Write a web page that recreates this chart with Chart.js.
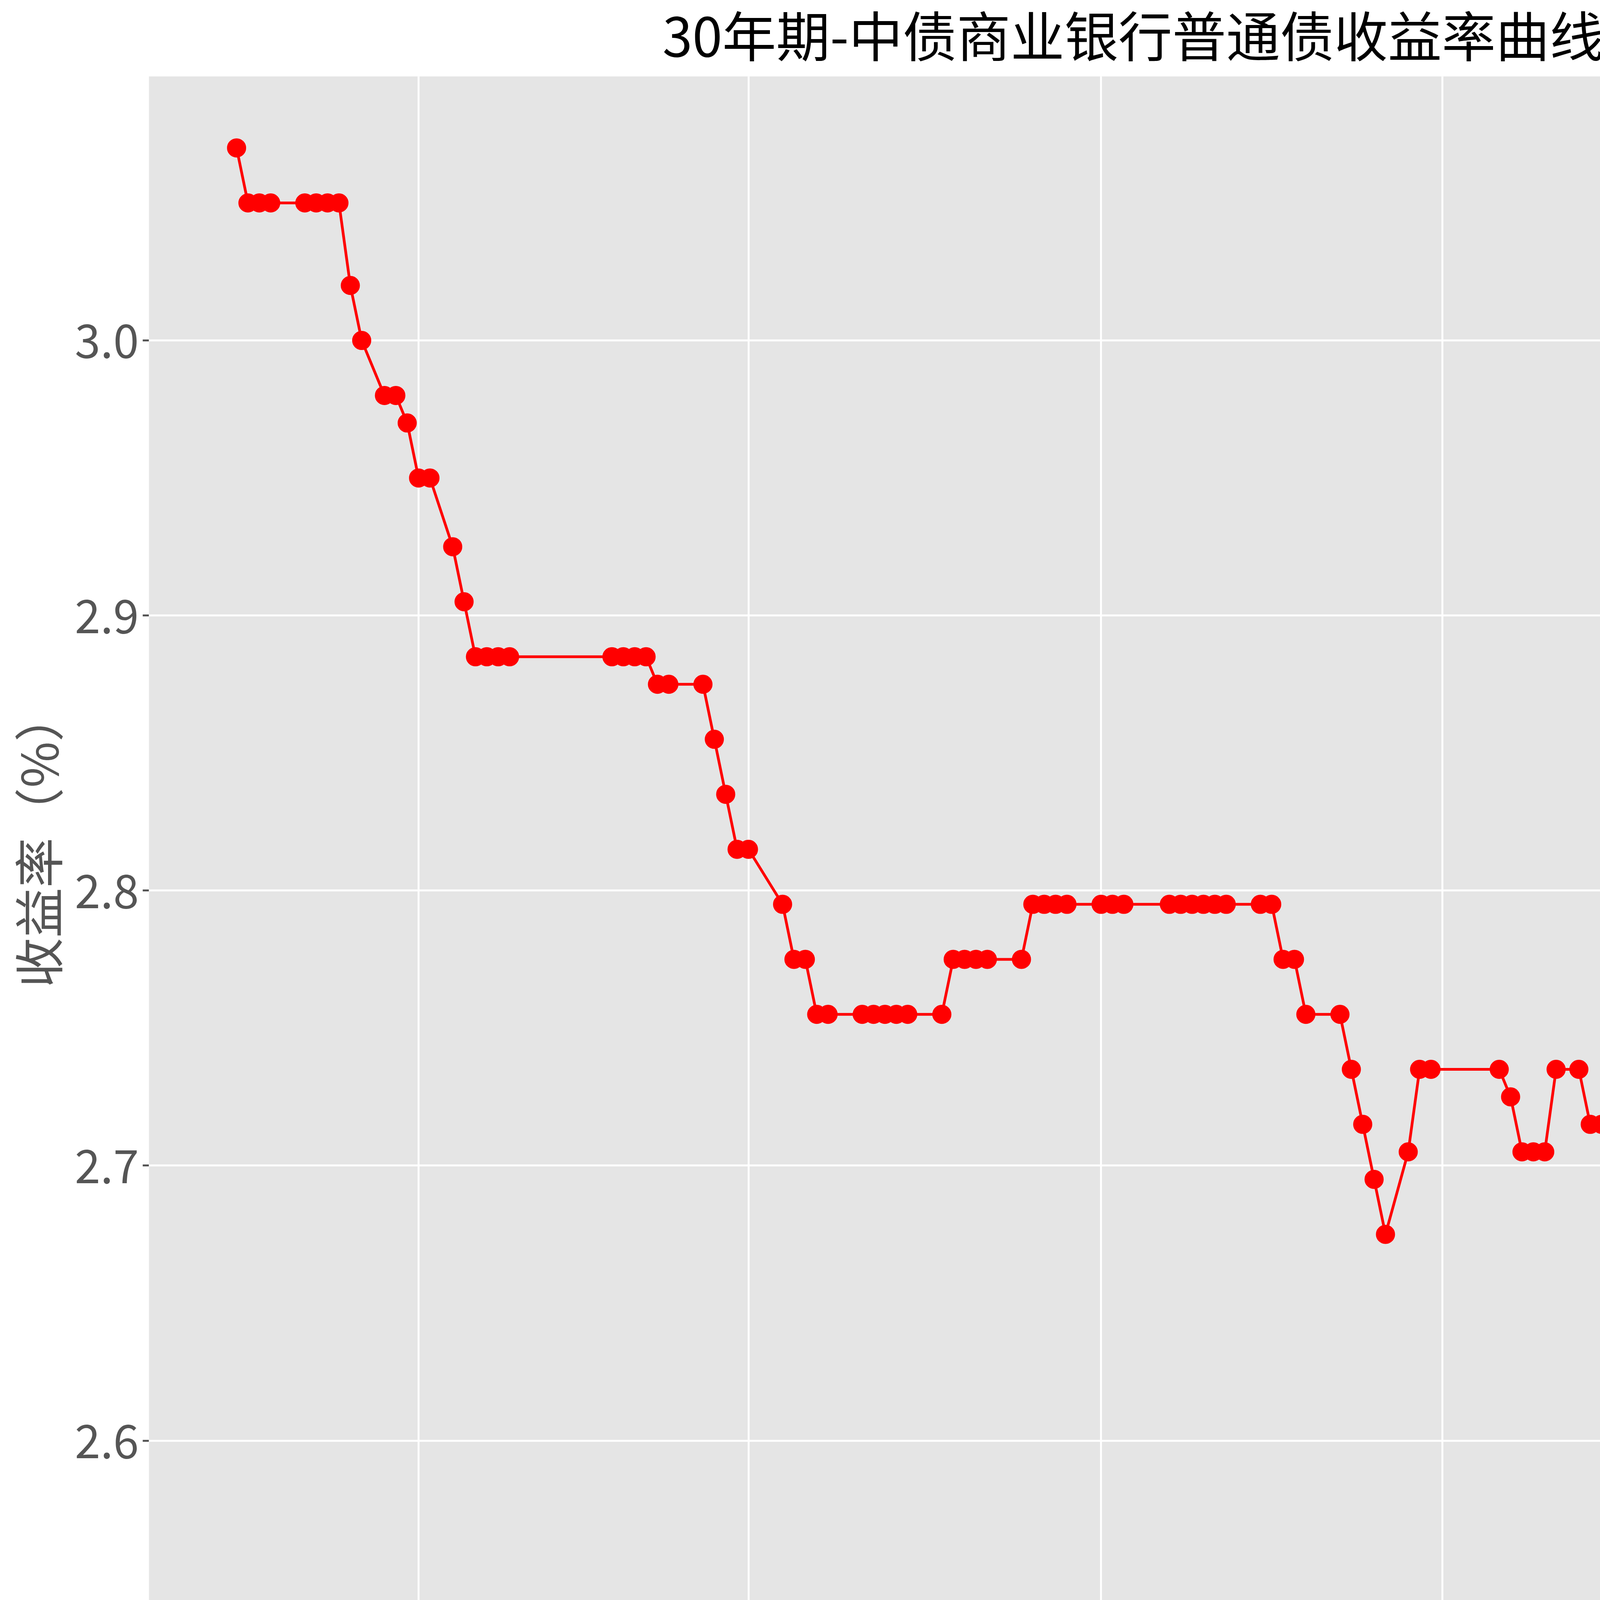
<!DOCTYPE html>
<html><head><meta charset="utf-8">
<script src="https://cdn.jsdelivr.net/npm/chart.js@4/dist/chart.umd.min.js"></script>
<style>html,body{margin:0;padding:0;background:#fff;overflow:hidden}canvas{display:block}</style>
</head><body>
<canvas id="c" width="6194" height="4574" style="width:6194px;height:4574px"></canvas>
<script>
const dates = ["2024-01-16","2024-01-17","2024-01-18","2024-01-19","2024-01-22","2024-01-23","2024-01-24","2024-01-25","2024-01-26","2024-01-27","2024-01-29","2024-01-30","2024-01-31","2024-02-01","2024-02-02","2024-02-04","2024-02-05","2024-02-06","2024-02-07","2024-02-08","2024-02-09","2024-02-18","2024-02-19","2024-02-20","2024-02-21","2024-02-22","2024-02-23","2024-02-26","2024-02-27","2024-02-28","2024-02-29","2024-03-01","2024-03-04","2024-03-05","2024-03-06","2024-03-07","2024-03-08","2024-03-11","2024-03-12","2024-03-13","2024-03-14","2024-03-15","2024-03-18","2024-03-19","2024-03-20","2024-03-21","2024-03-22","2024-03-25","2024-03-26","2024-03-27","2024-03-28","2024-03-29","2024-04-01","2024-04-02","2024-04-03","2024-04-07","2024-04-08","2024-04-09","2024-04-10","2024-04-11","2024-04-12","2024-04-15","2024-04-16","2024-04-17","2024-04-18","2024-04-19","2024-04-22","2024-04-23","2024-04-24","2024-04-25","2024-04-26","2024-04-28","2024-04-29","2024-04-30","2024-05-06","2024-05-07","2024-05-08","2024-05-09","2024-05-10","2024-05-11","2024-05-13","2024-05-14","2024-05-15","2024-05-16","2024-05-17","2024-05-20","2024-05-21","2024-05-22","2024-05-23","2024-05-24","2024-05-27","2024-05-28","2024-05-29","2024-05-30","2024-05-31","2024-06-03","2024-06-04","2024-06-05","2024-06-06","2024-06-07","2024-06-11","2024-06-12","2024-06-13","2024-06-14","2024-06-17","2024-06-18","2024-06-19","2024-06-20","2024-06-21","2024-06-24","2024-06-25","2024-06-26","2024-06-27","2024-06-28","2024-07-01","2024-07-02","2024-07-03","2024-07-04","2024-07-05","2024-07-08","2024-07-09","2024-07-10","2024-07-11","2024-07-12","2024-07-15"];
const yields = [3.07,3.05,3.05,3.05,3.05,3.05,3.05,3.05,3.02,3.00,2.98,2.98,2.97,2.95,2.95,2.925,2.905,2.885,2.885,2.885,2.885,2.885,2.885,2.885,2.885,2.875,2.875,2.875,2.855,2.835,2.815,2.815,2.795,2.775,2.775,2.755,2.755,2.755,2.755,2.755,2.755,2.755,2.755,2.775,2.775,2.775,2.775,2.775,2.795,2.795,2.795,2.795,2.795,2.795,2.795,2.795,2.795,2.795,2.795,2.795,2.795,2.795,2.795,2.775,2.775,2.755,2.755,2.735,2.715,2.695,2.675,2.705,2.735,2.735,2.735,2.725,2.705,2.705,2.705,2.735,2.735,2.715,2.715,2.715,2.715,2.735,2.735,2.735,2.735,2.735,2.735,2.735,2.715,2.715,2.715,2.715,2.695,2.695,2.695,2.665,2.655,2.655,2.635,2.635,2.635,2.635,2.615,2.615,2.615,2.615,2.615,2.615,2.595,2.565,2.565,2.565,2.565,2.565,2.565,2.58,2.58,2.58,2.58,2.58,2.58];
const xTickDates = ["2024-02-01","2024-03-01","2024-04-01","2024-05-01","2024-06-01","2024-07-01"];
const yTicks = [2.6,2.7,2.8,2.9,3.0];
const title = "30年期-中债商业银行普通债收益率曲线(AAA)";
const yTitle = "收益率（%）";

const toDay = s => { const [y,m,d]=s.split("-").map(Number); return (Date.UTC(y,m-1,d)-Date.UTC(2024,0,1))/864e5; };
const dayLabel = {}; xTickDates.forEach(s=>dayLabel[toDay(s)]=s.slice(0,7));
const pts = dates.map((d,i)=>({x:toDay(d),y:yields[i]}));
const F = "'Noto Sans CJK SC', 'DejaVu Sans'";
const bg = {id:'bg',beforeDraw(c){const a=c.chartArea,x=c.ctx;x.save();x.fillStyle='#E5E5E5';x.fillRect(a.left,a.top,a.right-a.left,a.bottom-a.top);x.restore();}};
new Chart(document.getElementById('c'),{
 type:'line',
 data:{datasets:[{data:pts,borderColor:'#FF0000',backgroundColor:'#FF0000',borderWidth:7,pointRadius:21,pointHoverRadius:21,tension:0}]},
 options:{responsive:false,animation:false,devicePixelRatio:1,
  layout:{padding:{left:20,right:70,top:10,bottom:20}},
  plugins:{legend:{display:false},tooltip:{enabled:false},
   title:{display:true,text:title,color:'#000',font:{family:F,size:138,weight:'normal'},padding:{top:0,bottom:20}}},
  scales:{
   x:{type:'linear',min:7.3,max:204.5,
    afterBuildTicks:a=>{a.ticks=xTickDates.map(s=>({value:toDay(s)}));},
    ticks:{callback:v=>dayLabel[v]||'',color:'#555',font:{family:F,size:112},minRotation:55,maxRotation:55,padding:10},
    grid:{color:'#FFFFFF',lineWidth:5,drawTicks:true,tickColor:'#555',tickLength:16},border:{display:false}},
   y:{min:2.541,max:3.096,
    afterBuildTicks:a=>{a.ticks=yTicks.map(v=>({value:v}));},
    ticks:{callback:v=>v.toFixed(1),color:'#555',font:{family:F,size:118},padding:10},
    title:{display:true,text:yTitle,color:'#555',font:{family:F,size:128}},
    grid:{color:'#FFFFFF',lineWidth:5,tickColor:'#555',tickLength:16},border:{display:false}}
  }},
 plugins:[bg]
});
</script>
</body></html>
